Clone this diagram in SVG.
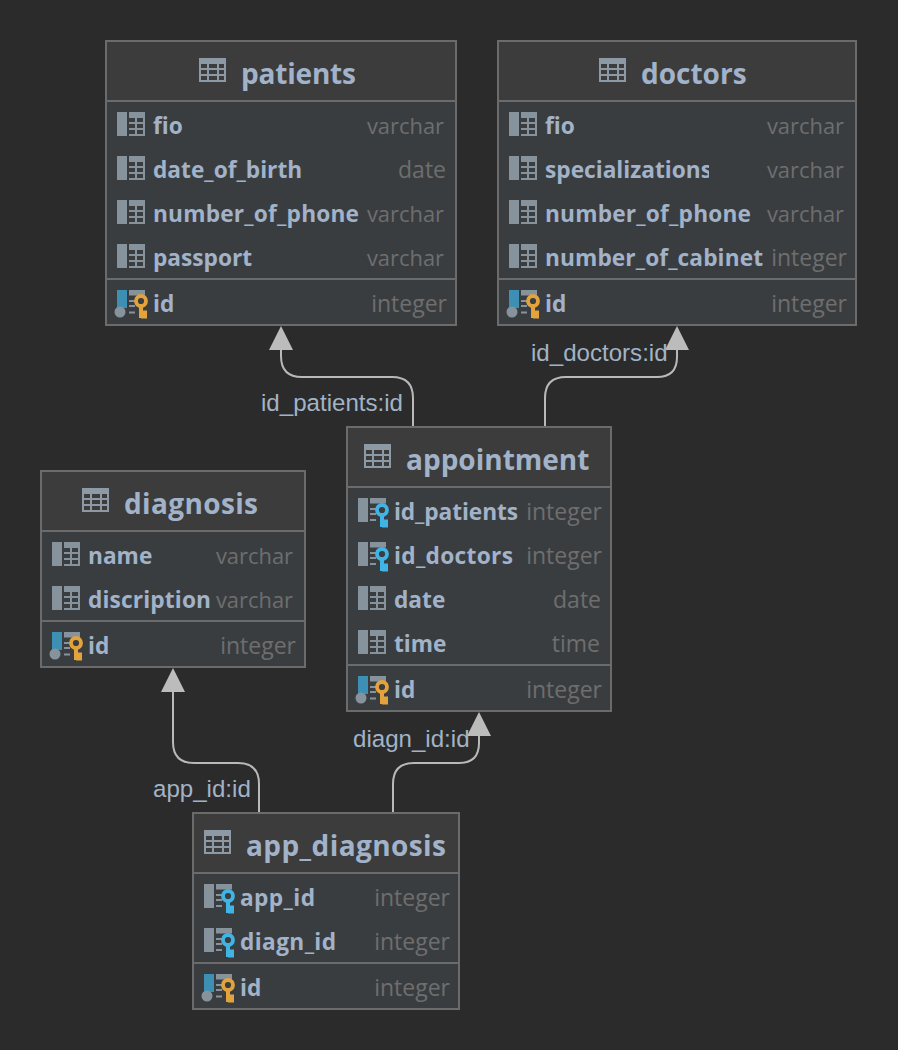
<svg xmlns="http://www.w3.org/2000/svg" width="898" height="1050" viewBox="0 0 898 1050">
<style>
.body{fill:#3a3d40;stroke:none}
.head{fill:#3c3c3c;stroke:none}
.frame{fill:none;stroke:#6b6b6b;stroke-width:2}
.div{stroke:#6b6b6b;stroke-width:2}
text{font-family:"Open Sans","Noto Sans",sans-serif}
.title{font-size:28px;font-weight:700;fill:#a2b3c9}
.col{font-size:22.700px;font-weight:700;fill:#a2b3c9}
.type{font-size:23px;fill:#6e6e6e;text-anchor:end}
.v{font-size:21.900px}
.lab{font-family:"Liberation Sans",Arial,sans-serif;font-size:24.100px;fill:#a2b3c6}
.conn{fill:none;stroke:#b9b9b9;stroke-width:2}
</style>
<defs>
<marker id="tri" markerUnits="userSpaceOnUse" markerWidth="24" markerHeight="24" refX="0" refY="12" orient="auto" viewBox="0 0 24 24"><path d="M0 0L24 12L0 24Z" fill="#bcbcbc"/></marker>
<clipPath id="spec"><rect x="545" y="150" width="164" height="40"/></clipPath>
<g id="tbl"><path fill="#8d9aa5" fill-rule="evenodd" d="M0 0H27V24H0ZM2 6V10H8V6ZM10 6V10H18V6ZM20 6V10H25V6ZM2 12V16H8V12ZM10 12V16H18V12ZM20 12V16H25V12ZM2 18V22H8V18ZM10 18V22H18V18ZM20 18V22H25V18Z"/></g>
<g id="c"><rect width="10" height="24" fill="#87939c"/><path fill="#87939c" d="M12 0H28V24H12V22H18V18H12V16H18V12H12V10H18V6H12ZM20 6V10H26V6ZM20 12V16H26V12ZM20 18V22H26V18Z" fill-rule="evenodd"/></g>
<g id="stub"><rect width="10" height="18" fill="#3d8fb3"/><circle cx="3" cy="22" r="5.500" fill="#87939c"/><rect x="12" y="0" width="16" height="5.500" fill="#87939c"/><path d="M12 11H18M12 16H18M12 22.500H18" stroke="#87939c" stroke-width="2"/></g>
<g id="fstub"><rect width="10" height="24" fill="#87939c"/><rect x="12" width="16" height="5.500" fill="#87939c"/><path d="M12 11H18M12 16H18M12 22H18" stroke="#87939c" stroke-width="2"/></g>
<g id="ok"><circle cx="0" cy="0" r="5" fill="none" stroke="#e3a33c" stroke-width="3.800"/><path d="M0 6V17M0 11.500H6M0 15.500H6" stroke="#e3a33c" stroke-width="4" fill="none"/></g>
<g id="bk"><circle cx="0" cy="0" r="5" fill="none" stroke="#3fb4e5" stroke-width="3.800"/><path d="M0 6V17M0 11.500H6M0 15.500H6" stroke="#3fb4e5" stroke-width="4" fill="none"/></g>
</defs>
<rect width="898" height="1050" fill="#2b2b2b"/>
<g id="connectors">
<path class="conn" d="M413 426V398Q413 377 392 377H302Q281 377 281 356V350" marker-end="url(#tri)"/>
<path class="conn" d="M545 426V398Q545 377 566 377H657Q677 377 677 357V350" marker-end="url(#tri)"/>
<path class="conn" d="M259 812V784Q259 763 238 763H194Q173 763 173 742V692" marker-end="url(#tri)"/>
<path class="conn" d="M393 812V784Q393 763 414 763H459Q479 763 479 743V736" marker-end="url(#tri)"/>
<text class="lab" x="261" y="411">id_patients:id</text>
<text class="lab" x="531" y="361">id_doctors:id</text>
<text class="lab" x="153" y="797">app_id:id</text>
<text class="lab" x="353" y="747">diagn_id:id</text>
</g>
<g id="patients">
<rect class="body" x="106" y="41" width="350" height="284"/><rect class="head" x="106" y="41" width="350" height="60"/>
<line class="div" x1="106" x2="456" y1="101" y2="101"/><line class="div" x1="106" x2="456" y1="279" y2="279"/><rect class="frame" x="106" y="41" width="350" height="284"/>
<use href="#tbl" x="199" y="58"/><text class="title" x="241" y="84" textLength="115">patients</text>
<use href="#c" x="117" y="112"/><text class="col" x="153" y="134">fio</text><text class="type v" x="444" y="134">varchar</text>
<use href="#c" x="117" y="156"/><text class="col" x="153" y="178">date_of_birth</text><text class="type" x="446" y="178">date</text>
<use href="#c" x="117" y="200"/><text class="col" x="153" y="222" textLength="206">number_of_phone</text><text class="type v" x="444" y="222">varchar</text>
<use href="#c" x="117" y="244"/><text class="col" x="153" y="266">passport</text><text class="type v" x="444" y="266">varchar</text>
<use href="#stub" x="117" y="290"/><use href="#ok" x="141" y="301"/><text class="col" x="153" y="312">id</text><text class="type" x="447" y="312">integer</text>
</g>
<g id="doctors">
<rect class="body" x="498" y="41" width="358" height="284"/><rect class="head" x="498" y="41" width="358" height="60"/>
<line class="div" x1="498" x2="856" y1="101" y2="101"/><line class="div" x1="498" x2="856" y1="279" y2="279"/><rect class="frame" x="498" y="41" width="358" height="284"/>
<use href="#tbl" x="599" y="58"/><text class="title" x="641" y="84">doctors</text>
<use href="#c" x="509" y="112"/><text class="col" x="545" y="134">fio</text><text class="type v" x="844" y="134">varchar</text>
<use href="#c" x="509" y="156"/><text class="col" x="545" y="178" clip-path="url(#spec)">specializations</text><text class="type v" x="844" y="178">varchar</text>
<use href="#c" x="509" y="200"/><text class="col" x="545" y="222" textLength="206">number_of_phone</text><text class="type v" x="844" y="222">varchar</text>
<use href="#c" x="509" y="244"/><text class="col" x="545" y="266" textLength="218">number_of_cabinet</text><text class="type" x="847" y="266">integer</text>
<use href="#stub" x="509" y="290"/><use href="#ok" x="533" y="301"/><text class="col" x="545" y="312">id</text><text class="type" x="847" y="312">integer</text>
</g>
<g id="appointment">
<rect class="body" x="347" y="427" width="264" height="284"/><rect class="head" x="347" y="427" width="264" height="60"/>
<line class="div" x1="347" x2="611" y1="487" y2="487"/><line class="div" x1="347" x2="611" y1="665" y2="665"/><rect class="frame" x="347" y="427" width="264" height="284"/>
<use href="#tbl" x="364" y="444"/><text class="title" x="406" y="470">appointment</text>
<use href="#fstub" x="358" y="498"/><use href="#bk" x="382" y="510"/><text class="col" x="394" y="520" textLength="124">id_patients</text><text class="type" x="602" y="520">integer</text>
<use href="#fstub" x="358" y="542"/><use href="#bk" x="382" y="554"/><text class="col" x="394" y="564" textLength="119">id_doctors</text><text class="type" x="602" y="564">integer</text>
<use href="#c" x="358" y="586"/><text class="col" x="394" y="608">date</text><text class="type" x="601" y="608">date</text>
<use href="#c" x="358" y="630"/><text class="col" x="394" y="652">time</text><text class="type" x="600" y="652">time</text>
<use href="#stub" x="358" y="676"/><use href="#ok" x="382" y="687"/><text class="col" x="394" y="698">id</text><text class="type" x="602" y="698">integer</text>
</g>
<g id="diagnosis">
<rect class="body" x="41" y="471" width="264" height="196"/><rect class="head" x="41" y="471" width="264" height="60"/>
<line class="div" x1="41" x2="305" y1="531" y2="531"/><line class="div" x1="41" x2="305" y1="621" y2="621"/><rect class="frame" x="41" y="471" width="264" height="196"/>
<use href="#tbl" x="82" y="488"/><text class="title" x="124" y="514" textLength="134">diagnosis</text>
<use href="#c" x="52" y="542"/><text class="col" x="88" y="564">name</text><text class="type v" x="293" y="564">varchar</text>
<use href="#c" x="52" y="586"/><text class="col" x="88" y="608" textLength="123">discription</text><text class="type v" x="293" y="608">varchar</text>
<use href="#stub" x="52" y="632"/><use href="#ok" x="76" y="643"/><text class="col" x="88" y="654">id</text><text class="type" x="296" y="654">integer</text>
</g>
<g id="app_diagnosis">
<rect class="body" x="193" y="813" width="266" height="196"/><rect class="head" x="193" y="813" width="266" height="60"/>
<line class="div" x1="193" x2="459" y1="873" y2="873"/><line class="div" x1="193" x2="459" y1="963" y2="963"/><rect class="frame" x="193" y="813" width="266" height="196"/>
<use href="#tbl" x="204" y="830"/><text class="title" x="246" y="856" textLength="200">app_diagnosis</text>
<use href="#fstub" x="204" y="884"/><use href="#bk" x="228" y="896"/><text class="col" x="240" y="906" textLength="75">app_id</text><text class="type" x="450" y="906">integer</text>
<use href="#fstub" x="204" y="928"/><use href="#bk" x="228" y="940"/><text class="col" x="240" y="950" textLength="96">diagn_id</text><text class="type" x="450" y="950">integer</text>
<use href="#stub" x="204" y="974"/><use href="#ok" x="228" y="985"/><text class="col" x="240" y="996">id</text><text class="type" x="450" y="996">integer</text>
</g>
</svg>
